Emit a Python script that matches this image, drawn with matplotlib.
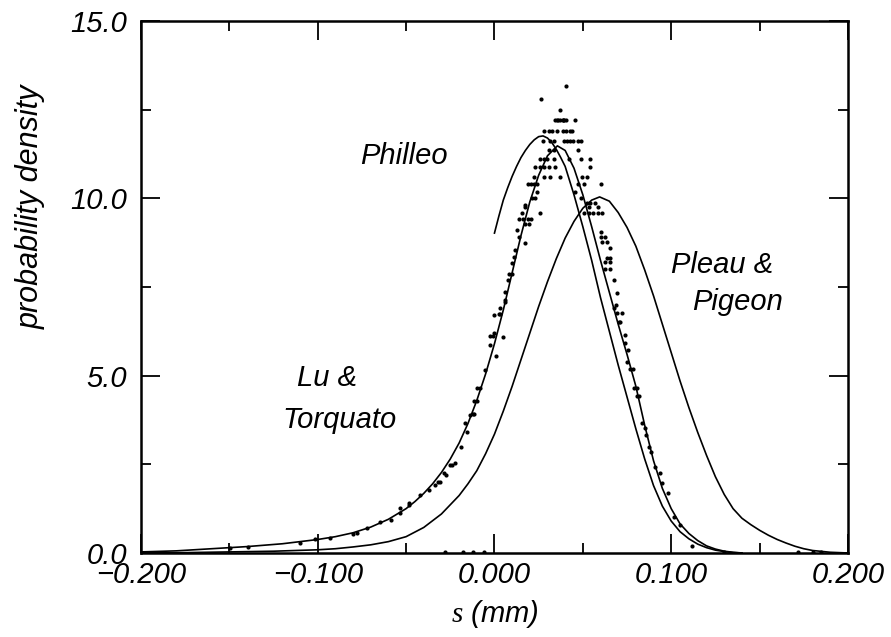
import matplotlib
matplotlib.use("Agg")
import matplotlib.pyplot as plt
from matplotlib import ticker

plt.rcParams['font.family'] = ['Liberation Sans', 'DejaVu Sans']
plt.rcParams['mathtext.fontset'] = 'custom'
plt.rcParams['mathtext.it'] = 'Liberation Serif:italic'
plt.rcParams['mathtext.rm'] = 'Liberation Sans:italic'

philleo_x = [0.0, 0.0025, 0.005, 0.0075, 0.010, 0.0125, 0.015, 0.0175, 0.020,
             0.0225, 0.025, 0.0275, 0.030, 0.0325, 0.035, 0.0375, 0.040, 0.045,
             0.050, 0.055, 0.060, 0.065, 0.070, 0.075, 0.080, 0.085, 0.090,
             0.095, 0.100, 0.105, 0.110, 0.115, 0.120, 0.125, 0.130, 0.135, 0.140]
philleo_y = [9.02, 9.5, 9.95, 10.3, 10.62, 10.9, 11.15, 11.35, 11.52,
             11.65, 11.74, 11.76, 11.7, 11.57, 11.38, 11.15, 10.9, 10.1,
             9.2, 8.25, 7.2, 6.25, 5.3, 4.4, 3.5, 2.65, 1.9,
             1.32, 0.9, 0.6, 0.4, 0.25, 0.15, 0.08, 0.04, 0.01, 0.0]

lu_x = [-0.200, -0.180, -0.160, -0.140, -0.120, -0.100, -0.090, -0.080, -0.070,
        -0.060, -0.050, -0.045, -0.040, -0.035, -0.030, -0.025, -0.020, -0.015,
        -0.010, -0.005, 0.000, 0.005, 0.010, 0.015, 0.020, 0.025, 0.030,
        0.0356, 0.040, 0.045, 0.050, 0.055, 0.060, 0.065, 0.070, 0.075,
        0.080, 0.085, 0.090, 0.095, 0.100, 0.105, 0.110, 0.115, 0.120,
        0.125, 0.130, 0.135, 0.140]
lu_y = [0.03, 0.06, 0.12, 0.18, 0.26, 0.38, 0.46, 0.57, 0.73,
        0.95, 1.25, 1.45, 1.68, 1.95, 2.27, 2.65, 3.10, 3.65,
        4.30, 5.05, 5.90, 6.85, 7.90, 8.95, 9.90, 10.65, 11.20,
        11.48, 11.35, 10.85, 10.1, 9.2, 8.25, 7.35, 6.45, 5.6,
        4.7, 3.6, 2.6, 1.82, 1.25, 0.82, 0.55, 0.35, 0.2,
        0.11, 0.05, 0.02, 0.0]

pp_x = [-0.200, -0.175, -0.150, -0.125, -0.100, -0.090, -0.080, -0.070, -0.060,
        -0.050, -0.040, -0.030, -0.020, -0.015, -0.010, -0.005, 0.000, 0.005,
        0.010, 0.015, 0.020, 0.025, 0.030, 0.035, 0.040, 0.045, 0.050,
        0.055, 0.0595, 0.065, 0.070, 0.075, 0.080, 0.085, 0.090, 0.095,
        0.100, 0.105, 0.110, 0.115, 0.120, 0.125, 0.130, 0.135, 0.140,
        0.145, 0.150, 0.155, 0.160, 0.165, 0.170, 0.175, 0.180, 0.190, 0.200]
pp_y = [0.0, 0.01, 0.03, 0.05, 0.09, 0.12, 0.17, 0.23, 0.32,
        0.46, 0.72, 1.1, 1.62, 1.95, 2.32, 2.8, 3.35, 4.0,
        4.7, 5.45, 6.2, 6.95, 7.65, 8.3, 8.88, 9.35, 9.72,
        9.95, 10.04, 9.92, 9.6, 9.18, 8.65, 7.98, 7.25, 6.45,
        5.65, 4.85, 4.1, 3.4, 2.75, 2.15, 1.65, 1.25, 0.98,
        0.8, 0.64, 0.5, 0.38, 0.28, 0.19, 0.12, 0.07, 0.02, 0.0]

data_s = [0.0402, 0.0266, 0.0373,
          0.0345, 0.0356, 0.0362, 0.0373, 0.0385, 0.0390, 0.0396, 0.0407, 0.0453,
          0.0283, 0.0309, 0.0328, 0.0351, 0.0385, 0.0402, 0.0430, 0.0441,
          0.0272, 0.0317, 0.0339, 0.0396, 0.0413, 0.0430, 0.0447, 0.0470, 0.0487,
          0.0311, 0.0339, 0.0470,
          0.0260, 0.0283, 0.0300, 0.0339, 0.0424, 0.0487, 0.0543,
          0.0232, 0.0255, 0.0283, 0.0311, 0.0345, 0.0543,
          0.0226, 0.0283, 0.0317, 0.0373, 0.0498, 0.0526,
          0.0187, 0.0204, 0.0226, 0.0243, 0.0470, 0.0509, 0.0600,
          0.0243, 0.0453,
          0.0215, 0.0232, 0.0487,
          0.0526, 0.0543, 0.0566,
          0.0175,
          0.0170, 0.0537, 0.0583,
          0.0158, 0.0255, 0.0509, 0.0537, 0.0560, 0.0583, 0.0611,
          0.0141, 0.0164, 0.0187, 0.0204,
          0.0175, 0.0198,
          0.0130,
          0.0600,
          0.0141, 0.0600, 0.0628,
          0.0611, 0.0639,
          0.0170,
          0.0651,
          0.0119,
          0.0113,
          0.0639, 0.0656,
          0.0628, 0.0656,
          0.0102,
          0.0628, 0.0651,
          0.0085, 0.0102,
          0.0074, 0.0679,
          0.0062,
          0.0696,
          0.0057, 0.0057,
          0.0685,
          0.0034, 0.0679,
          0.0696, 0.0724,
          0.0028, 0.0034,
          0.0,
          0.0707, 0.0713,
          0.0,
          0.0736,
          0.0051,
          -0.0023, -0.0011,
          0.0741,
          -0.0028,
          0.0758,
          0.0006,
          0.0752,
          0.0769, 0.0781,
          -0.0051,
          -0.0096, -0.0079, 0.0792, 0.0809,
          0.0809, 0.0820,
          -0.0113, -0.0096,
          -0.0124, -0.0113,
          -0.0136,
          -0.0164, 0.0837,
          0.0849,
          -0.0153,
          0.0860,
          -0.0192, 0.0877,
          0.0883,
          -0.0226,
          -0.0238, -0.0249,
          0.0911,
          -0.0283, 0.0934,
          -0.0277,
          -0.0306, -0.0322,
          0.0950,
          -0.0334,
          -0.0368,
          0.0979,
          -0.0424,
          -0.0481, -0.0481,
          -0.0532, -0.0532,
          0.1018,
          -0.0588,
          -0.0645,
          0.1047,
          -0.0719,
          -0.0775,
          -0.0803,
          -0.0928,
          -0.1018,
          -0.1098,
          0.1115,
          -0.1397,
          -0.1499,
          -0.028, -0.018, -0.012, -0.006, 0.130, 0.172, 0.180, 0.185]
data_p = [13.17, 12.80, 12.49,
          12.21, 12.21, 12.21, 12.21, 12.21, 12.21, 12.21, 12.21, 12.21,
          11.90, 11.90, 11.90, 11.90, 11.90, 11.90, 11.90, 11.90,
          11.62, 11.62, 11.62, 11.62, 11.62, 11.62, 11.62, 11.62, 11.62,
          11.36, 11.36, 11.36,
          11.11, 11.11, 11.11, 11.11, 11.11, 11.11, 11.11,
          10.88, 10.88, 10.88, 10.88, 10.88, 10.88,
          10.60, 10.60, 10.60, 10.60, 10.60, 10.60,
          10.40, 10.40, 10.40, 10.40, 10.40, 10.40, 10.40,
          10.18, 10.18,
          10.01, 10.01, 10.01,
          9.87, 9.87, 9.87,
          9.81,
          9.75, 9.75, 9.75,
          9.59, 9.59, 9.59, 9.59, 9.59, 9.59, 9.59,
          9.42, 9.42, 9.42, 9.42,
          9.28, 9.28,
          9.11,
          9.05,
          8.91, 8.91, 8.91,
          8.77, 8.77,
          8.74,
          8.60,
          8.54,
          8.35,
          8.32, 8.32,
          8.20, 8.20,
          8.18,
          8.01, 8.01,
          7.87, 7.87,
          7.70, 7.70,
          7.36,
          7.33,
          7.13, 7.08,
          6.99,
          6.91, 6.91,
          6.77, 6.77,
          6.74, 6.74,
          6.71,
          6.51, 6.51,
          6.20,
          6.15,
          6.09,
          6.12, 6.12,
          5.92,
          5.86,
          5.72,
          5.55,
          5.38,
          5.19, 5.19,
          5.16,
          4.65, 4.65, 4.65, 4.65,
          4.43, 4.43,
          4.29, 4.29,
          3.92, 3.92,
          3.89,
          3.67, 3.67,
          3.52,
          3.41,
          3.33,
          2.99, 2.99,
          2.85,
          2.54,
          2.48, 2.48,
          2.42,
          2.26, 2.26,
          2.20,
          2.00, 2.00,
          1.97,
          1.92,
          1.78,
          1.69,
          1.64,
          1.41, 1.35,
          1.27, 1.13,
          1.01,
          0.93,
          0.87,
          0.79,
          0.70,
          0.56,
          0.54,
          0.42,
          0.39,
          0.28,
          0.20,
          0.17,
          0.14,
          0.03, 0.03, 0.03, 0.03, 0.03, 0.03, 0.03, 0.03]

x_ticks = [-0.2, -0.1, 0.0, 0.1, 0.2]
y_ticks = [0.0, 5.0, 10.0, 15.0]

fig = plt.figure(figsize=(8.91, 6.37), dpi=100)
ax = fig.add_axes([0.1582, 0.1319, 0.7935, 0.8351])

lw = 1.2
ax.plot(philleo_x, philleo_y, color='black', lw=lw)
ax.plot(lu_x, lu_y, color='black', lw=lw)
ax.plot(pp_x, pp_y, color='black', lw=lw)
ax.plot(data_s, data_p, linestyle='none', marker='o', ms=3.0,
        color='black', mec='none')

ax.set_xlim(-0.2, 0.2)
ax.set_ylim(0, 15)
ax.set_xticks(x_ticks)
ax.set_yticks(y_ticks)
ax.xaxis.set_minor_locator(ticker.MultipleLocator(0.05))
ax.yaxis.set_minor_locator(ticker.MultipleLocator(2.5))
ax.xaxis.set_major_formatter(ticker.FuncFormatter(lambda v, p: ('%.3f' % v).replace('-', '\u2212')))
ax.yaxis.set_major_formatter(ticker.FuncFormatter(lambda v, p: '%.1f' % v))

ax.tick_params(which='both', direction='in', top=True, right=True, width=1.3,
               labelsize=21)
ax.tick_params(which='major', length=14)
ax.tick_params(which='minor', length=7)
ax.tick_params(axis='x', pad=6)
ax.tick_params(axis='y', pad=10)
for lab in ax.get_xticklabels() + ax.get_yticklabels():
    lab.set_fontstyle('italic')
for sp in ax.spines.values():
    sp.set_linewidth(1.8)

ax.set_ylabel('probability density', fontsize=22, fontstyle='italic')
ax.yaxis.set_label_coords(-0.135, 0.65)
ax.set_xlabel('$s$ (mm)', fontsize=21, fontstyle='italic', labelpad=6)

tk = dict(fontsize=21, fontstyle='italic', ha='center', va='center')
ax.text(-0.051, 11.2, 'Philleo', **tk)
ax.text(0.129, 8.12, 'Pleau &', **tk)
ax.text(0.1375, 7.08, 'Pigeon', **tk)
ax.text(-0.0945, 4.93, 'Lu &', **tk)
ax.text(-0.0877, 3.75, 'Torquato', **tk)

fig.savefig('out.png', dpi=100)
